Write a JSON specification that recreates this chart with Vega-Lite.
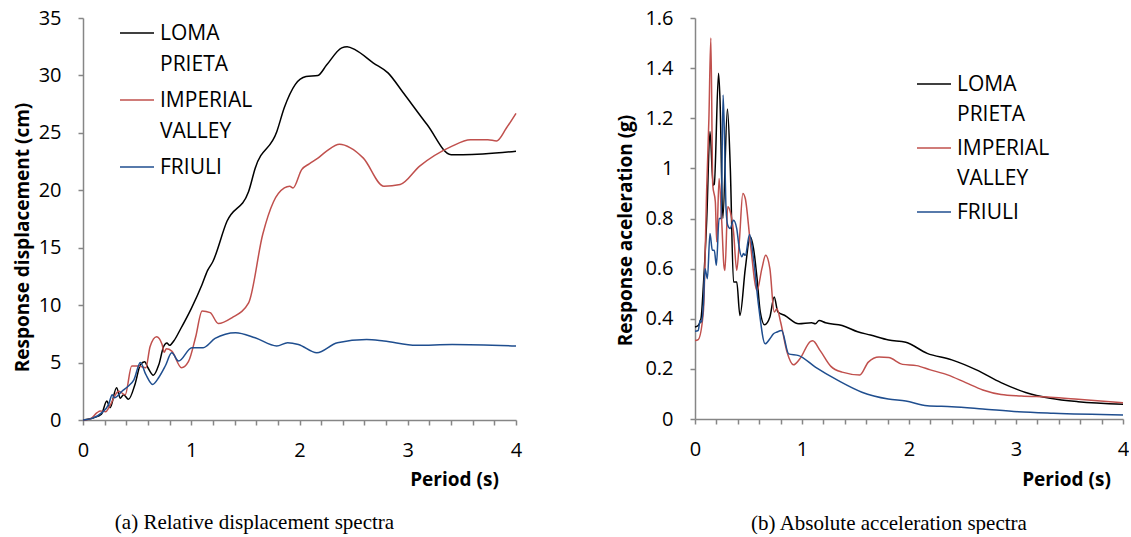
{
"$schema": "https://vega.github.io/schema/vega-lite/v6.json",
"background": "white",
"padding": {"left": 13, "top": 8, "right": 0, "bottom": 0},
"bounds": "flush",
"spacing": 179,
"datasets": {
"disp": [
{"record":"LOMA PRIETA","period":0,"value":0},{"record":"LOMA PRIETA","period":0.1,"value":0.2},{"record":"LOMA PRIETA","period":0.17,"value":0.5},{"record":"LOMA PRIETA","period":0.22,"value":1.65},{"record":"LOMA PRIETA","period":0.25,"value":1.07},{"record":"LOMA PRIETA","period":0.31,"value":2.8},{"record":"LOMA PRIETA","period":0.345,"value":1.9},{"record":"LOMA PRIETA","period":0.375,"value":2.2},{"record":"LOMA PRIETA","period":0.42,"value":1.8},{"record":"LOMA PRIETA","period":0.48,"value":3.1},{"record":"LOMA PRIETA","period":0.53,"value":4.8},{"record":"LOMA PRIETA","period":0.57,"value":5.07},{"record":"LOMA PRIETA","period":0.6,"value":4.55},{"record":"LOMA PRIETA","period":0.65,"value":3.9},{"record":"LOMA PRIETA","period":0.7,"value":4.8},{"record":"LOMA PRIETA","period":0.745,"value":6.4},{"record":"LOMA PRIETA","period":0.775,"value":6.7},{"record":"LOMA PRIETA","period":0.8,"value":6.5},{"record":"LOMA PRIETA","period":0.84,"value":6.9},{"record":"LOMA PRIETA","period":0.9,"value":7.9},{"record":"LOMA PRIETA","period":1.0,"value":9.7},{"record":"LOMA PRIETA","period":1.1,"value":11.8},{"record":"LOMA PRIETA","period":1.15,"value":13.0},{"record":"LOMA PRIETA","period":1.2,"value":13.8},{"record":"LOMA PRIETA","period":1.33,"value":17.3},{"record":"LOMA PRIETA","period":1.53,"value":19.9},{"record":"LOMA PRIETA","period":1.59,"value":21.9},{"record":"LOMA PRIETA","period":1.79,"value":25.1},{"record":"LOMA PRIETA","period":1.86,"value":27.2},{"record":"LOMA PRIETA","period":1.96,"value":29.2},{"record":"LOMA PRIETA","period":2.06,"value":29.9},{"record":"LOMA PRIETA","period":2.17,"value":30.0},{"record":"LOMA PRIETA","period":2.25,"value":30.9},{"record":"LOMA PRIETA","period":2.39,"value":32.4},{"record":"LOMA PRIETA","period":2.44,"value":32.5},{"record":"LOMA PRIETA","period":2.52,"value":32.2},{"record":"LOMA PRIETA","period":2.68,"value":31.1},{"record":"LOMA PRIETA","period":2.82,"value":30.2},{"record":"LOMA PRIETA","period":2.95,"value":28.6},{"record":"LOMA PRIETA","period":3.18,"value":25.7},{"record":"LOMA PRIETA","period":3.4,"value":23.1},{"record":"LOMA PRIETA","period":3.51,"value":23.1},{"record":"LOMA PRIETA","period":4.0,"value":23.4},
{"record":"IMPERIAL VALLEY","period":0,"value":0},{"record":"IMPERIAL VALLEY","period":0.07,"value":0.1},{"record":"IMPERIAL VALLEY","period":0.13,"value":0.64},{"record":"IMPERIAL VALLEY","period":0.16,"value":0.78},{"record":"IMPERIAL VALLEY","period":0.21,"value":0.72},{"record":"IMPERIAL VALLEY","period":0.24,"value":1.1},{"record":"IMPERIAL VALLEY","period":0.33,"value":2.5},{"record":"IMPERIAL VALLEY","period":0.39,"value":2.2},{"record":"IMPERIAL VALLEY","period":0.45,"value":4.7},{"record":"IMPERIAL VALLEY","period":0.51,"value":4.7},{"record":"IMPERIAL VALLEY","period":0.58,"value":4.55},{"record":"IMPERIAL VALLEY","period":0.62,"value":6.4},{"record":"IMPERIAL VALLEY","period":0.68,"value":7.25},{"record":"IMPERIAL VALLEY","period":0.73,"value":6.6},{"record":"IMPERIAL VALLEY","period":0.75,"value":5.9},{"record":"IMPERIAL VALLEY","period":0.77,"value":6.2},{"record":"IMPERIAL VALLEY","period":0.82,"value":6.0},{"record":"IMPERIAL VALLEY","period":0.91,"value":4.55},{"record":"IMPERIAL VALLEY","period":0.975,"value":5.1},{"record":"IMPERIAL VALLEY","period":1.04,"value":7.2},{"record":"IMPERIAL VALLEY","period":1.1,"value":9.5},{"record":"IMPERIAL VALLEY","period":1.175,"value":9.35},{"record":"IMPERIAL VALLEY","period":1.25,"value":8.4},{"record":"IMPERIAL VALLEY","period":1.375,"value":8.9},{"record":"IMPERIAL VALLEY","period":1.53,"value":10.2},{"record":"IMPERIAL VALLEY","period":1.66,"value":16.15},{"record":"IMPERIAL VALLEY","period":1.76,"value":19.0},{"record":"IMPERIAL VALLEY","period":1.86,"value":20.2},{"record":"IMPERIAL VALLEY","period":1.91,"value":20.35},{"record":"IMPERIAL VALLEY","period":1.94,"value":20.2},{"record":"IMPERIAL VALLEY","period":2.02,"value":21.8},{"record":"IMPERIAL VALLEY","period":2.09,"value":22.3},{"record":"IMPERIAL VALLEY","period":2.17,"value":22.8},{"record":"IMPERIAL VALLEY","period":2.25,"value":23.4},{"record":"IMPERIAL VALLEY","period":2.37,"value":24.0},{"record":"IMPERIAL VALLEY","period":2.47,"value":23.7},{"record":"IMPERIAL VALLEY","period":2.59,"value":22.8},{"record":"IMPERIAL VALLEY","period":2.78,"value":20.35},{"record":"IMPERIAL VALLEY","period":2.93,"value":20.5},{"record":"IMPERIAL VALLEY","period":3.11,"value":22.1},{"record":"IMPERIAL VALLEY","period":3.4,"value":23.8},{"record":"IMPERIAL VALLEY","period":3.58,"value":24.4},{"record":"IMPERIAL VALLEY","period":3.74,"value":24.4},{"record":"IMPERIAL VALLEY","period":3.82,"value":24.3},{"record":"IMPERIAL VALLEY","period":3.91,"value":25.4},{"record":"IMPERIAL VALLEY","period":4.0,"value":26.7},
{"record":"FRIULI","period":0,"value":0},{"record":"FRIULI","period":0.083,"value":0.14},{"record":"FRIULI","period":0.175,"value":0.64},{"record":"FRIULI","period":0.237,"value":1.36},{"record":"FRIULI","period":0.27,"value":2.2},{"record":"FRIULI","period":0.29,"value":1.94},{"record":"FRIULI","period":0.36,"value":2.5},{"record":"FRIULI","period":0.42,"value":2.96},{"record":"FRIULI","period":0.47,"value":3.5},{"record":"FRIULI","period":0.53,"value":5.0},{"record":"FRIULI","period":0.58,"value":3.97},{"record":"FRIULI","period":0.643,"value":3.1},{"record":"FRIULI","period":0.7,"value":3.7},{"record":"FRIULI","period":0.76,"value":4.7},{"record":"FRIULI","period":0.82,"value":5.85},{"record":"FRIULI","period":0.883,"value":5.13},{"record":"FRIULI","period":1.006,"value":6.3},{"record":"FRIULI","period":1.11,"value":6.3},{"record":"FRIULI","period":1.22,"value":7.1},{"record":"FRIULI","period":1.41,"value":7.6},{"record":"FRIULI","period":1.59,"value":7.16},{"record":"FRIULI","period":1.79,"value":6.44},{"record":"FRIULI","period":1.89,"value":6.73},{"record":"FRIULI","period":1.99,"value":6.58},{"record":"FRIULI","period":2.16,"value":5.86},{"record":"FRIULI","period":2.35,"value":6.73},{"record":"FRIULI","period":2.62,"value":7.0},{"record":"FRIULI","period":2.78,"value":6.87},{"record":"FRIULI","period":3.08,"value":6.5},{"record":"FRIULI","period":3.41,"value":6.58},{"record":"FRIULI","period":4.0,"value":6.44}
],
"acc": [
{"record":"LOMA PRIETA","period":0,"value":0.367},{"record":"LOMA PRIETA","period":0.03,"value":0.373},{"record":"LOMA PRIETA","period":0.056,"value":0.4},{"record":"LOMA PRIETA","period":0.078,"value":0.53},{"record":"LOMA PRIETA","period":0.11,"value":0.8},{"record":"LOMA PRIETA","period":0.14,"value":1.147},{"record":"LOMA PRIETA","period":0.17,"value":0.933},{"record":"LOMA PRIETA","period":0.18,"value":0.936},{"record":"LOMA PRIETA","period":0.22,"value":1.38},{"record":"LOMA PRIETA","period":0.234,"value":1.27},{"record":"LOMA PRIETA","period":0.26,"value":0.8},{"record":"LOMA PRIETA","period":0.303,"value":1.237},{"record":"LOMA PRIETA","period":0.33,"value":1.0},{"record":"LOMA PRIETA","period":0.36,"value":0.547},{"record":"LOMA PRIETA","period":0.39,"value":0.547},{"record":"LOMA PRIETA","period":0.42,"value":0.413},{"record":"LOMA PRIETA","period":0.47,"value":0.6},{"record":"LOMA PRIETA","period":0.516,"value":0.727},{"record":"LOMA PRIETA","period":0.547,"value":0.68},{"record":"LOMA PRIETA","period":0.58,"value":0.56},{"record":"LOMA PRIETA","period":0.61,"value":0.427},{"record":"LOMA PRIETA","period":0.65,"value":0.376},{"record":"LOMA PRIETA","period":0.7,"value":0.407},{"record":"LOMA PRIETA","period":0.74,"value":0.487},{"record":"LOMA PRIETA","period":0.775,"value":0.427},{"record":"LOMA PRIETA","period":0.84,"value":0.413},{"record":"LOMA PRIETA","period":0.97,"value":0.38},{"record":"LOMA PRIETA","period":1.09,"value":0.384},{"record":"LOMA PRIETA","period":1.125,"value":0.38},{"record":"LOMA PRIETA","period":1.16,"value":0.393},{"record":"LOMA PRIETA","period":1.22,"value":0.384},{"record":"LOMA PRIETA","period":1.375,"value":0.373},{"record":"LOMA PRIETA","period":1.52,"value":0.348},{"record":"LOMA PRIETA","period":1.64,"value":0.335},{"record":"LOMA PRIETA","period":1.81,"value":0.315},{"record":"LOMA PRIETA","period":1.97,"value":0.306},{"record":"LOMA PRIETA","period":2.17,"value":0.262},{"record":"LOMA PRIETA","period":2.4,"value":0.236},{"record":"LOMA PRIETA","period":2.63,"value":0.196},{"record":"LOMA PRIETA","period":2.86,"value":0.145},{"record":"LOMA PRIETA","period":3.09,"value":0.106},{"record":"LOMA PRIETA","period":3.32,"value":0.083},{"record":"LOMA PRIETA","period":3.58,"value":0.069},{"record":"LOMA PRIETA","period":4.0,"value":0.059},
{"record":"IMPERIAL VALLEY","period":0,"value":0.313},{"record":"IMPERIAL VALLEY","period":0.03,"value":0.317},{"record":"IMPERIAL VALLEY","period":0.078,"value":0.427},{"record":"IMPERIAL VALLEY","period":0.11,"value":0.93},{"record":"IMPERIAL VALLEY","period":0.13,"value":1.2},{"record":"IMPERIAL VALLEY","period":0.148,"value":1.52},{"record":"IMPERIAL VALLEY","period":0.166,"value":0.933},{"record":"IMPERIAL VALLEY","period":0.19,"value":0.867},{"record":"IMPERIAL VALLEY","period":0.203,"value":0.707},{"record":"IMPERIAL VALLEY","period":0.225,"value":0.96},{"record":"IMPERIAL VALLEY","period":0.25,"value":0.787},{"record":"IMPERIAL VALLEY","period":0.27,"value":0.613},{"record":"IMPERIAL VALLEY","period":0.28,"value":0.593},{"record":"IMPERIAL VALLEY","period":0.306,"value":0.847},{"record":"IMPERIAL VALLEY","period":0.33,"value":0.827},{"record":"IMPERIAL VALLEY","period":0.36,"value":0.747},{"record":"IMPERIAL VALLEY","period":0.39,"value":0.593},{"record":"IMPERIAL VALLEY","period":0.415,"value":0.713},{"record":"IMPERIAL VALLEY","period":0.447,"value":0.9},{"record":"IMPERIAL VALLEY","period":0.47,"value":0.88},{"record":"IMPERIAL VALLEY","period":0.516,"value":0.707},{"record":"IMPERIAL VALLEY","period":0.58,"value":0.513},{"record":"IMPERIAL VALLEY","period":0.625,"value":0.6},{"record":"IMPERIAL VALLEY","period":0.66,"value":0.653},{"record":"IMPERIAL VALLEY","period":0.7,"value":0.6},{"record":"IMPERIAL VALLEY","period":0.74,"value":0.427},{"record":"IMPERIAL VALLEY","period":0.766,"value":0.44},{"record":"IMPERIAL VALLEY","period":0.8,"value":0.387},{"record":"IMPERIAL VALLEY","period":0.86,"value":0.267},{"record":"IMPERIAL VALLEY","period":0.92,"value":0.216},{"record":"IMPERIAL VALLEY","period":0.98,"value":0.24},{"record":"IMPERIAL VALLEY","period":1.08,"value":0.31},{"record":"IMPERIAL VALLEY","period":1.1,"value":0.312},{"record":"IMPERIAL VALLEY","period":1.17,"value":0.273},{"record":"IMPERIAL VALLEY","period":1.27,"value":0.21},{"record":"IMPERIAL VALLEY","period":1.375,"value":0.187},{"record":"IMPERIAL VALLEY","period":1.54,"value":0.176},{"record":"IMPERIAL VALLEY","period":1.62,"value":0.227},{"record":"IMPERIAL VALLEY","period":1.72,"value":0.247},{"record":"IMPERIAL VALLEY","period":1.81,"value":0.245},{"record":"IMPERIAL VALLEY","period":1.94,"value":0.218},{"record":"IMPERIAL VALLEY","period":2.07,"value":0.213},{"record":"IMPERIAL VALLEY","period":2.2,"value":0.196},{"record":"IMPERIAL VALLEY","period":2.36,"value":0.176},{"record":"IMPERIAL VALLEY","period":2.53,"value":0.145},{"record":"IMPERIAL VALLEY","period":2.69,"value":0.116},{"record":"IMPERIAL VALLEY","period":2.86,"value":0.098},{"record":"IMPERIAL VALLEY","period":3.05,"value":0.092},{"record":"IMPERIAL VALLEY","period":3.32,"value":0.087},{"record":"IMPERIAL VALLEY","period":3.58,"value":0.079},{"record":"IMPERIAL VALLEY","period":4.0,"value":0.065},
{"record":"FRIULI","period":0,"value":0.35},{"record":"FRIULI","period":0.03,"value":0.353},{"record":"FRIULI","period":0.047,"value":0.393},{"record":"FRIULI","period":0.0625,"value":0.387},{"record":"FRIULI","period":0.078,"value":0.453},{"record":"FRIULI","period":0.094,"value":0.6},{"record":"FRIULI","period":0.116,"value":0.56},{"record":"FRIULI","period":0.14,"value":0.74},{"record":"FRIULI","period":0.162,"value":0.673},{"record":"FRIULI","period":0.18,"value":0.673},{"record":"FRIULI","period":0.2,"value":0.613},{"record":"FRIULI","period":0.225,"value":0.8},{"record":"FRIULI","period":0.244,"value":0.8},{"record":"FRIULI","period":0.2625,"value":1.293},{"record":"FRIULI","period":0.275,"value":1.133},{"record":"FRIULI","period":0.29,"value":0.84},{"record":"FRIULI","period":0.306,"value":0.773},{"record":"FRIULI","period":0.328,"value":0.76},{"record":"FRIULI","period":0.36,"value":0.793},{"record":"FRIULI","period":0.39,"value":0.76},{"record":"FRIULI","period":0.41,"value":0.693},{"record":"FRIULI","period":0.4375,"value":0.647},{"record":"FRIULI","period":0.453,"value":0.66},{"record":"FRIULI","period":0.47,"value":0.653},{"record":"FRIULI","period":0.51,"value":0.736},{"record":"FRIULI","period":0.547,"value":0.64},{"record":"FRIULI","period":0.594,"value":0.453},{"record":"FRIULI","period":0.656,"value":0.3},{"record":"FRIULI","period":0.7,"value":0.32},{"record":"FRIULI","period":0.734,"value":0.34},{"record":"FRIULI","period":0.766,"value":0.347},{"record":"FRIULI","period":0.81,"value":0.353},{"record":"FRIULI","period":0.875,"value":0.26},{"record":"FRIULI","period":0.97,"value":0.253},{"record":"FRIULI","period":1.125,"value":0.207},{"record":"FRIULI","period":1.34,"value":0.153},{"record":"FRIULI","period":1.56,"value":0.107},{"record":"FRIULI","period":1.806,"value":0.08},{"record":"FRIULI","period":1.97,"value":0.072},{"record":"FRIULI","period":2.17,"value":0.053},{"record":"FRIULI","period":2.4,"value":0.049},{"record":"FRIULI","period":2.69,"value":0.04},{"record":"FRIULI","period":3.02,"value":0.029},{"record":"FRIULI","period":3.35,"value":0.023},{"record":"FRIULI","period":4.0,"value":0.016}
]
},
"hconcat": [
{
"width": 433, "height": 402,
"data": {"name": "disp"},
"mark": {"type": "line", "interpolate": "monotone", "strokeWidth": 1.5},
"title": {"text": "(a) Relative displacement spectra", "orient": "bottom", "anchor": "middle", "frame": "group", "offset": 23, "dx": -45},
"encoding": {
"x": {"field": "period", "type": "quantitative", "scale": {"domain": [0, 4], "nice": false},
 "axis": {"values": [0,0.2,0.4,0.6,0.8,1,1.2,1.4,1.6,1.8,2,2.2,2.4,2.6,2.8,3,3.2,3.4,3.6,3.8,4], "labelExpr": "datum.value % 1 == 0 ? format(datum.value, 'd') : ''", "title": "Period (s)", "titleX": 371, "titleY": 59}},
"y": {"field": "value", "type": "quantitative", "scale": {"domain": [0, 35], "nice": false},
 "axis": {"values": [0,5,10,15,20,25,30,35], "title": "Response displacement (cm)", "titleX": -61, "titleY": 219}},
"color": {"field": "record", "type": "nominal", "scale": {"domain": ["LOMA PRIETA", "IMPERIAL VALLEY", "FRIULI"], "range": ["#000000", "#c0504d", "#1f4e8f"]},
 "legend": {"orient": "none", "legendX": 36, "legendY": -3, "rowPadding": 7, "labelExpr": "split(datum.label, ' ')",
  "encode": {"labels": {"update": {"dy": {"value": 7}, "lineHeight": {"value": 31}}}}}}
}
},
{
"width": 428, "height": 401,
"data": {"name": "acc"},
"mark": {"type": "line", "interpolate": "monotone", "strokeWidth": 1.5},
"title": {"text": "(b) Absolute acceleration spectra", "orient": "bottom", "anchor": "middle", "frame": "group", "offset": 24, "dx": -20},
"encoding": {
"x": {"field": "period", "type": "quantitative", "scale": {"domain": [0, 4], "nice": false},
 "axis": {"values": [0,0.2,0.4,0.6,0.8,1,1.2,1.4,1.6,1.8,2,2.2,2.4,2.6,2.8,3,3.2,3.4,3.6,3.8,4], "labelExpr": "datum.value % 1 == 0 ? format(datum.value, 'd') : ''", "title": "Period (s)", "titleX": 371, "titleY": 60}},
"y": {"field": "value", "type": "quantitative", "scale": {"domain": [0, 1.6], "nice": false},
 "axis": {"values": [0,0.2,0.4,0.6,0.8,1,1.2,1.4,1.6], "format": "~f", "title": "Response aceleration (g)", "titleX": -70, "titleY": 212}},
"color": {"field": "record", "type": "nominal", "scale": {"domain": ["LOMA PRIETA", "IMPERIAL VALLEY", "FRIULI"], "range": ["#000000", "#c0504d", "#1f4e8f"]},
 "legend": {"orient": "none", "legendX": 221, "legendY": 48, "rowPadding": 5, "labelExpr": "split(datum.label, ' ')",
  "encode": {"labels": {"update": {"dy": {"value": 7}, "lineHeight": {"value": 30}}}}}}
}
}
],
"resolve": {"scale": {"color": "independent"}, "legend": {"color": "independent"}},
"config": {
"view": {"stroke": null},
"axis": {"grid": false, "domainColor": "#868686", "domainWidth": 1.5, "tickColor": "#868686", "tickWidth": 1.5, "tickSize": 5,
 "labelFont": "Open Sans", "labelFontSize": 20, "labelColor": "#000000", "labelPadding": 15, "labelFlush": false, "labelOverlap": false,
 "titleFont": "Open Sans", "titleFontSize": 19, "titleFontWeight": "bold", "titleColor": "#000000", "titleAlign": "center", "titleBaseline": "middle"},
"axisY": {"labelPadding": 17},
"legend": {"title": null, "padding": 0, "symbolType": "stroke", "symbolSize": 1156, "symbolStrokeWidth": 1.5,
 "labelFont": "Open Sans", "labelFontSize": 21, "labelColor": "#000000", "labelOffset": 5, "labelLimit": 300,
 "labelBaseline": "alphabetic"},
"title": {"font": "Liberation Serif", "fontSize": 21, "fontWeight": "normal", "color": "#000000"}
}
}
